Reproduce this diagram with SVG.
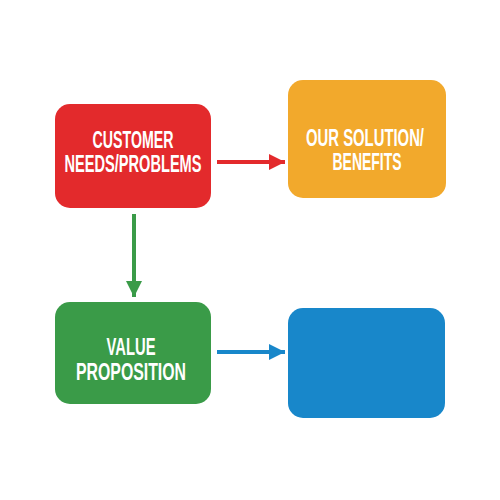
<svg xmlns="http://www.w3.org/2000/svg" width="500" height="500" viewBox="0 0 500 500">
<defs>
<style>
.lbl{font-family:"Liberation Sans",Arial,sans-serif;font-weight:bold;font-size:23px;fill:#fff;text-anchor:middle}
.conn{stroke-width:4;fill:none}
</style>
<marker id="ar" viewBox="0 0 10 10" refX="10" refY="5" markerWidth="4" markerHeight="5" markerUnits="strokeWidth" orient="auto"><path d="M0,0 L10,5 L0,10 Z" fill="#e32a2c"/></marker>
<marker id="ag" viewBox="0 0 10 10" refX="10" refY="5" markerWidth="4" markerHeight="5.5" markerUnits="strokeWidth" orient="auto"><path d="M0,0 L10,5 L0,10 Z" fill="#3a9b48"/></marker>
<marker id="ab" viewBox="0 0 10 10" refX="10" refY="5" markerWidth="4" markerHeight="5" markerUnits="strokeWidth" orient="auto"><path d="M0,0 L10,5 L0,10 Z" fill="#1887ca"/></marker>
</defs>
<rect width="500" height="500" fill="#fff"/>
<g id="connectors">
<line class="conn" x1="217" y1="162" x2="285" y2="162" stroke="#e32a2c" marker-end="url(#ar)"/>
<line class="conn" x1="134" y1="214" x2="134" y2="297" stroke="#3a9b48" marker-end="url(#ag)"/>
<line class="conn" x1="217" y1="352" x2="285" y2="352" stroke="#1887ca" marker-end="url(#ab)"/>
</g>
<g id="customer">
<rect x="55" y="104" width="156" height="104" rx="15" fill="#e32a2c"/>
<text class="lbl" x="133" y="148" textLength="81" lengthAdjust="spacingAndGlyphs">CUSTOMER</text>
<text class="lbl" x="133" y="172" textLength="137" lengthAdjust="spacingAndGlyphs">NEEDS/PROBLEMS</text>
</g>
<g id="solution">
<rect x="288" y="80" width="158" height="118" rx="15" fill="#f2a92c"/>
<text class="lbl" x="365" y="146" textLength="118" lengthAdjust="spacingAndGlyphs">OUR SOLUTION/</text>
<text class="lbl" x="367" y="170" textLength="69" lengthAdjust="spacingAndGlyphs">BENEFITS</text>
</g>
<g id="value">
<rect x="55" y="302" width="156" height="102" rx="15" fill="#3a9b48"/>
<text class="lbl" x="131" y="355" textLength="49" lengthAdjust="spacingAndGlyphs">VALUE</text>
<text class="lbl" x="131" y="380" textLength="110" lengthAdjust="spacingAndGlyphs">PROPOSITION</text>
</g>
<g id="blank">
<rect x="288" y="308" width="157" height="110" rx="15" fill="#1887ca"/>
</g>
</svg>
